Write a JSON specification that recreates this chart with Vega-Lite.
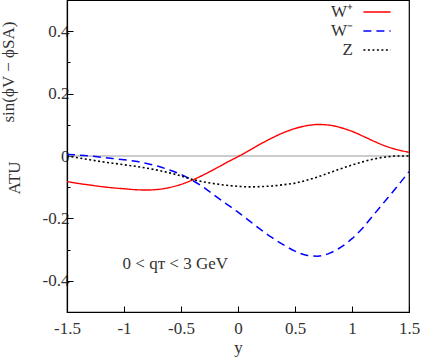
{
  "$schema": "https://vega.github.io/schema/vega-lite/v6.json",
  "width": 342,
  "height": 312,
  "autosize": "none",
  "padding": {"left": 67, "top": 0, "right": 12, "bottom": 48},
  "background": "white",
  "config": {
    "view": {"stroke": "black", "strokeWidth": 1.2},
    "font": "Liberation Serif",
    "style": {
      "guide-label": {"font": "Liberation Serif", "fontSize": 17, "fill": "#333"},
      "guide-title": {"font": "Liberation Serif", "fontSize": 17, "fill": "#333"}
    },
    "axis": {
      "grid": false,
      "domainColor": "black",
      "domainWidth": 1.2,
      "tickColor": "black",
      "labelColor": "#333",
      "titleColor": "#333",
      "labelFont": "Liberation Serif",
      "titleFont": "Liberation Serif",
      "labelFontSize": 17,
      "titleFontSize": 17,
      "titleFontWeight": "normal",
      "labelFlush": false,
      "labelOverlap": false
    },
    "axisX": {
      "values": [-1.5, -1.4, -1.3, -1.2, -1.1, -1.0, -0.9, -0.8, -0.7, -0.6, -0.5, -0.4, -0.3, -0.2, -0.1, 0, 0.1, 0.2, 0.3, 0.4, 0.5, 0.6, 0.7, 0.8, 0.9, 1.0, 1.1, 1.2, 1.3, 1.4, 1.5],
      "labelExpr": "abs(datum.value*2 - round(datum.value*2)) < 0.001 ? '' + round(datum.value*10)/10 : ''",
      "tickSize": {"condition": {"test": "abs(datum.value*2 - round(datum.value*2)) < 0.001", "value": -6}, "value": -3},
      "labelPadding": 14,
      "titlePadding": 3
    },
    "axisY": {
      "values": [-0.5, -0.45, -0.4, -0.35, -0.3, -0.25, -0.2, -0.15, -0.1, -0.05, 0, 0.05, 0.1, 0.15, 0.2, 0.25, 0.3, 0.35, 0.4, 0.45, 0.5],
      "labelExpr": "abs(datum.value*5 - round(datum.value*5)) < 0.001 ? '' + round(datum.value*10)/10 : ''",
      "tickSize": {"condition": {"test": "abs(datum.value*5 - round(datum.value*5)) < 0.001", "value": -6}, "value": -3},
      "labelPadding": 4,
      "titleLineHeight": 6,
      "titleAlign": "left",
      "titleBaseline": "bottom",
      "titleX": -50,
      "titleY": 194,
      "titleAngle": 270
    },
    "legend": {
      "orient": "none",
      "legendX": 301,
      "legendY": 3,
      "labelAlign": "right",
      "labelOffset": -33,
      "symbolType": "M-1.7,0H1.7",
      "symbolSize": 256,
      "labelFont": "Liberation Serif",
      "labelFontSize": 17,
      "labelColor": "#333",
      "padding": 0,
      "rowPadding": 2
    }
  },
  "datasets": {
    "curves": [
      {"rap": -1.5, "A": -0.082, "proc": "W⁺"},
      {"rap": -1.4, "A": -0.088, "proc": "W⁺"},
      {"rap": -1.3, "A": -0.093, "proc": "W⁺"},
      {"rap": -1.2, "A": -0.098, "proc": "W⁺"},
      {"rap": -1.1, "A": -0.102, "proc": "W⁺"},
      {"rap": -1.0, "A": -0.105, "proc": "W⁺"},
      {"rap": -0.9, "A": -0.108, "proc": "W⁺"},
      {"rap": -0.8, "A": -0.109, "proc": "W⁺"},
      {"rap": -0.7, "A": -0.107, "proc": "W⁺"},
      {"rap": -0.6, "A": -0.101, "proc": "W⁺"},
      {"rap": -0.5, "A": -0.091, "proc": "W⁺"},
      {"rap": -0.4, "A": -0.077, "proc": "W⁺"},
      {"rap": -0.3, "A": -0.060, "proc": "W⁺"},
      {"rap": -0.2, "A": -0.041, "proc": "W⁺"},
      {"rap": -0.1, "A": -0.021, "proc": "W⁺"},
      {"rap": 0.0, "A": -0.002, "proc": "W⁺"},
      {"rap": 0.1, "A": 0.018, "proc": "W⁺"},
      {"rap": 0.2, "A": 0.039, "proc": "W⁺"},
      {"rap": 0.3, "A": 0.058, "proc": "W⁺"},
      {"rap": 0.4, "A": 0.075, "proc": "W⁺"},
      {"rap": 0.5, "A": 0.088, "proc": "W⁺"},
      {"rap": 0.6, "A": 0.097, "proc": "W⁺"},
      {"rap": 0.7, "A": 0.101, "proc": "W⁺"},
      {"rap": 0.8, "A": 0.099, "proc": "W⁺"},
      {"rap": 0.9, "A": 0.091, "proc": "W⁺"},
      {"rap": 1.0, "A": 0.079, "proc": "W⁺"},
      {"rap": 1.1, "A": 0.063, "proc": "W⁺"},
      {"rap": 1.2, "A": 0.046, "proc": "W⁺"},
      {"rap": 1.3, "A": 0.031, "proc": "W⁺"},
      {"rap": 1.4, "A": 0.020, "proc": "W⁺"},
      {"rap": 1.5, "A": 0.012, "proc": "W⁺"},
      {"rap": -1.5, "A": 0.005, "proc": "W⁻"},
      {"rap": -1.4, "A": 0.003, "proc": "W⁻"},
      {"rap": -1.3, "A": 0.000, "proc": "W⁻"},
      {"rap": -1.2, "A": -0.004, "proc": "W⁻"},
      {"rap": -1.1, "A": -0.008, "proc": "W⁻"},
      {"rap": -1.0, "A": -0.012, "proc": "W⁻"},
      {"rap": -0.9, "A": -0.017, "proc": "W⁻"},
      {"rap": -0.8, "A": -0.024, "proc": "W⁻"},
      {"rap": -0.7, "A": -0.033, "proc": "W⁻"},
      {"rap": -0.6, "A": -0.045, "proc": "W⁻"},
      {"rap": -0.5, "A": -0.059, "proc": "W⁻"},
      {"rap": -0.4, "A": -0.078, "proc": "W⁻"},
      {"rap": -0.3, "A": -0.101, "proc": "W⁻"},
      {"rap": -0.2, "A": -0.128, "proc": "W⁻"},
      {"rap": -0.1, "A": -0.154, "proc": "W⁻"},
      {"rap": 0.0, "A": -0.180, "proc": "W⁻"},
      {"rap": 0.1, "A": -0.208, "proc": "W⁻"},
      {"rap": 0.2, "A": -0.236, "proc": "W⁻"},
      {"rap": 0.3, "A": -0.262, "proc": "W⁻"},
      {"rap": 0.4, "A": -0.285, "proc": "W⁻"},
      {"rap": 0.5, "A": -0.305, "proc": "W⁻"},
      {"rap": 0.6, "A": -0.318, "proc": "W⁻"},
      {"rap": 0.7, "A": -0.321, "proc": "W⁻"},
      {"rap": 0.8, "A": -0.312, "proc": "W⁻"},
      {"rap": 0.9, "A": -0.293, "proc": "W⁻"},
      {"rap": 1.0, "A": -0.265, "proc": "W⁻"},
      {"rap": 1.1, "A": -0.228, "proc": "W⁻"},
      {"rap": 1.2, "A": -0.184, "proc": "W⁻"},
      {"rap": 1.3, "A": -0.140, "proc": "W⁻"},
      {"rap": 1.4, "A": -0.096, "proc": "W⁻"},
      {"rap": 1.5, "A": -0.050, "proc": "W⁻"},
      {"rap": -1.5, "A": 0.000, "proc": "Z"},
      {"rap": -1.4, "A": -0.006, "proc": "Z"},
      {"rap": -1.3, "A": -0.012, "proc": "Z"},
      {"rap": -1.2, "A": -0.018, "proc": "Z"},
      {"rap": -1.1, "A": -0.023, "proc": "Z"},
      {"rap": -1.0, "A": -0.028, "proc": "Z"},
      {"rap": -0.9, "A": -0.033, "proc": "Z"},
      {"rap": -0.8, "A": -0.039, "proc": "Z"},
      {"rap": -0.7, "A": -0.046, "proc": "Z"},
      {"rap": -0.6, "A": -0.054, "proc": "Z"},
      {"rap": -0.5, "A": -0.064, "proc": "Z"},
      {"rap": -0.4, "A": -0.075, "proc": "Z"},
      {"rap": -0.3, "A": -0.083, "proc": "Z"},
      {"rap": -0.2, "A": -0.089, "proc": "Z"},
      {"rap": -0.1, "A": -0.094, "proc": "Z"},
      {"rap": 0.0, "A": -0.097, "proc": "Z"},
      {"rap": 0.1, "A": -0.099, "proc": "Z"},
      {"rap": 0.2, "A": -0.098, "proc": "Z"},
      {"rap": 0.3, "A": -0.096, "proc": "Z"},
      {"rap": 0.4, "A": -0.092, "proc": "Z"},
      {"rap": 0.5, "A": -0.087, "proc": "Z"},
      {"rap": 0.6, "A": -0.078, "proc": "Z"},
      {"rap": 0.7, "A": -0.067, "proc": "Z"},
      {"rap": 0.8, "A": -0.054, "proc": "Z"},
      {"rap": 0.9, "A": -0.041, "proc": "Z"},
      {"rap": 1.0, "A": -0.029, "proc": "Z"},
      {"rap": 1.1, "A": -0.018, "proc": "Z"},
      {"rap": 1.2, "A": -0.009, "proc": "Z"},
      {"rap": 1.3, "A": -0.003, "proc": "Z"},
      {"rap": 1.4, "A": 0.000, "proc": "Z"},
      {"rap": 1.5, "A": 0.000, "proc": "Z"}
    ]
  },
  "layer": [
    {
      "data": {"values": [{}]},
      "mark": {"type": "rule", "color": "#999999", "strokeWidth": 1},
      "encoding": {
        "y": {"datum": 0, "type": "quantitative", "scale": {"domain": [-0.5, 0.5], "nice": false}, "title": ["\u2800\u2800\u2800\u2800\u2800\u2800sin(ϕV − ϕSA)", "ATU"]}
      }
    },
    {
      "data": {"name": "curves"},
      "mark": {"type": "line", "interpolate": "monotone"},
      "encoding": {
        "x": {"field": "rap", "type": "quantitative", "scale": {"domain": [-1.5, 1.5], "nice": false}, "title": "y"},
        "y": {"field": "A", "type": "quantitative", "scale": {"domain": [-0.5, 0.5], "nice": false}, "title": ["\u2800\u2800\u2800\u2800\u2800\u2800sin(ϕV − ϕSA)", "ATU"]},
        "color": {"field": "proc", "type": "nominal", "scale": {"domain": ["W⁺", "W⁻", "Z"], "range": ["#ff0000", "#0000ff", "#000000"]}, "legend": {"title": null}},
        "strokeDash": {"field": "proc", "type": "nominal", "scale": {"domain": ["W⁺", "W⁻", "Z"], "range": [[1, 0], [8, 5], [2, 2.5]]}, "legend": {"title": null}},
        "strokeWidth": {"field": "proc", "type": "nominal", "scale": {"domain": ["W⁺", "W⁻", "Z"], "range": [1.4, 1.6, 2.6]}, "legend": {"title": null}}
      }
    },
    {
      "data": {"values": [{}]},
      "mark": {"type": "text", "font": "Liberation Serif", "fontSize": 17, "color": "#333", "align": "center", "baseline": "middle"},
      "encoding": {
        "x": {"datum": -0.55, "type": "quantitative", "scale": {"domain": [-1.5, 1.5], "nice": false}, "title": "y"},
        "y": {"datum": -0.345, "type": "quantitative", "scale": {"domain": [-0.5, 0.5], "nice": false}, "title": ["\u2800\u2800\u2800\u2800\u2800\u2800sin(ϕV − ϕSA)", "ATU"]},
        "text": {"value": "0 < qᴛ < 3 GeV"}
      }
    }
  ]
}
